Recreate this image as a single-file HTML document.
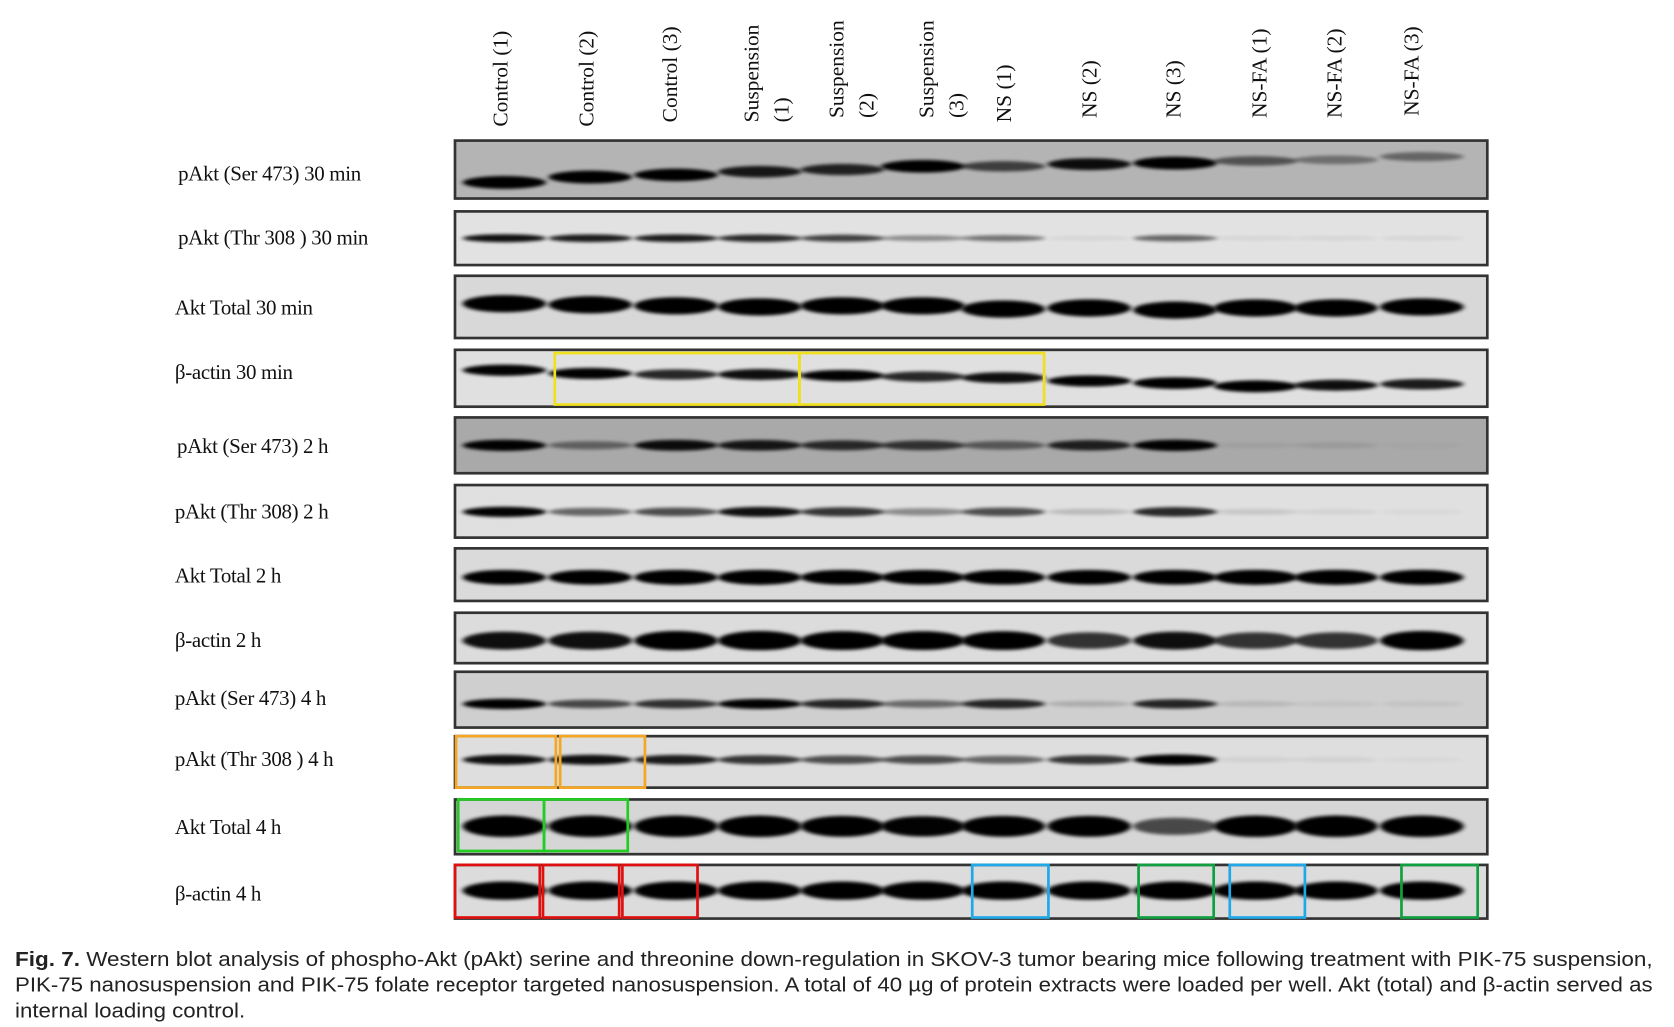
<!DOCTYPE html>
<html><head><meta charset="utf-8"><style>
html,body{margin:0;padding:0;background:#fff;width:1674px;height:1027px;overflow:hidden}
#w{position:absolute;left:0;top:0;width:1560px;height:957px;transform:scale(1.0731);transform-origin:0 0}
.lab{position:absolute;font-family:"Liberation Serif",serif;font-size:19.5px;color:#111;letter-spacing:-0.3px}
.cl{position:absolute;left:14px;width:1526px;font-family:"Liberation Sans",sans-serif;font-size:19px;color:#222;white-space:nowrap;transform-origin:0 0}
</style></head><body><div id="w">
<svg width="1560" height="957" style="position:absolute;left:0;top:0">
<defs><filter id="b" x="-20%" y="-100%" width="140%" height="300%"><feGaussianBlur stdDeviation="2.5 1.6"/></filter></defs>
<g font-family="Liberation Serif, serif" font-size="20" fill="#111">
<text transform="translate(473,118) rotate(-90)">Control  (1)</text>
<text transform="translate(553,118) rotate(-90)">Control  (2)</text>
<text transform="translate(631,114) rotate(-90)">Control  (3)</text>
<text transform="translate(707,114) rotate(-90)">Suspension</text>
<text transform="translate(735,114) rotate(-90)">(1)</text>
<text transform="translate(786,110) rotate(-90)">Suspension</text>
<text transform="translate(814,110) rotate(-90)">(2)</text>
<text transform="translate(870,110) rotate(-90)">Suspension</text>
<text transform="translate(898,110) rotate(-90)">(3)</text>
<text transform="translate(942,114) rotate(-90)">NS (1)</text>
<text transform="translate(1022,110) rotate(-90)">NS (2)</text>
<text transform="translate(1100,110) rotate(-90)">NS (3)</text>
<text transform="translate(1180,110) rotate(-90)">NS-FA  (1)</text>
<text transform="translate(1250,110) rotate(-90)">NS-FA  (2)</text>
<text transform="translate(1322,108) rotate(-90)">NS-FA  (3)</text>
</g>
<g id="blots"></g>
</svg>
<div class="lab" style="left:166px;top:152px">pAkt  (Ser 473) 30 min</div>
<div class="lab" style="left:166px;top:212px">pAkt  (Thr 308 ) 30 min</div>
<div class="lab" style="left:163px;top:277px">Akt Total 30 min</div>
<div class="lab" style="left:163px;top:337px">β-actin 30 min</div>
<div class="lab" style="left:165px;top:406px">pAkt (Ser 473) 2 h</div>
<div class="lab" style="left:163px;top:467px">pAkt  (Thr 308) 2 h</div>
<div class="lab" style="left:163px;top:527px">Akt Total 2 h</div>
<div class="lab" style="left:163px;top:587px">β-actin 2 h</div>
<div class="lab" style="left:163px;top:641px">pAkt (Ser 473) 4 h</div>
<div class="lab" style="left:163px;top:698px">pAkt (Thr 308 ) 4 h</div>
<div class="lab" style="left:163px;top:761px">Akt Total 4 h</div>
<div class="lab" style="left:163px;top:823px">β-actin 4 h</div>
<div class="cl" id="c1" style="top:884px"><b>Fig. 7.</b> Western blot analysis of phospho-Akt (pAkt) serine and threonine down-regulation in SKOV-3 tumor bearing mice following treatment with PIK-75 suspension,</div>
<div class="cl" id="c2" style="top:908px">PIK-75 nanosuspension and PIK-75 folate receptor targeted nanosuspension. A total of 40 µg of protein extracts were loaded per well. Akt (total) and β-actin served as</div>
<div class="cl" id="c3" style="top:932px">internal loading control.</div>
</div>
<script>
var lanes=[470,550,630,708,785,860,935,1015,1095,1170,1245,1325];
var rows=[
[131,185,'#b4b4b4',[170,165,163,160,158,155,155,153,152,150,149,146],[1,1,.95,.8,.75,.95,.6,.85,1,.5,.35,.4],12],
[197,247,'#e2e2e2',222,[.85,.8,.8,.75,.65,.35,.45,.05,.5,.05,.05,.05],8],
[257,315,'#d8d8d8',[283,284,285,286,285,285,288,287,289,287,287,286],[1,1,1,1,1,1,1,1,1,1,1,1],16],
[326,379,'#e0e0e0',[345,348,349,349,350,351,352,355,357,360,359,358],[.9,.9,.75,.85,.9,.75,.85,.9,1,1,.85,.8],11],
[389,441,'#a9a9a9',415,[.9,.4,.85,.8,.7,.65,.45,.75,.9,.05,.08,.02],11],
[452,501,'#e0e0e0',477,[.9,.5,.6,.85,.7,.35,.6,.15,.75,.1,.05,.03],10],
[511,560,'#dadada',538,[.95,.95,1,1,.95,.95,.95,.95,.95,1,1,1],14],
[571,618,'#dcdcdc',597,[.85,.85,1,1,.95,.95,.95,.7,.85,.7,.7,1],18],
[626,678,'#cfcfcf',656,[.95,.6,.7,.9,.75,.45,.75,.15,.75,.1,.05,.05],10],
[686,734,'#dedede',708,[.85,.85,.8,.7,.6,.6,.5,.7,.95,.05,.05,.02],10],
[745,796,'#d6d6d6',770,[1,1,1,1,.95,.9,.95,.95,.6,1,1,1],20],
[806,856,'#dcdcdc',830,[1,1,1,1,1,1,1,1,1,1,1,1],17]];
var s='';
rows.forEach(function(r){
 s+='<rect x="424" y="'+r[0]+'" width="962" height="'+(r[1]-r[0])+'" fill="'+r[2]+'" stroke="#333" stroke-width="2.5"/>';
 for(var i=0;i<12;i++){var y=Array.isArray(r[3])?r[3][i]:r[3];var a=r[4][i];
  s+='<ellipse cx="'+lanes[i]+'" cy="'+y+'" rx="39" ry="'+(r[5]*(0.5+0.5*a))/2+'" fill="#000" opacity="'+Math.min(1,a*1.1)+'" filter="url(#b)"/>';}
});
function bx(x1,y1,x2,y2,c){s+='<rect x="'+x1+'" y="'+y1+'" width="'+(x2-x1)+'" height="'+(y2-y1)+'" fill="none" stroke="'+c+'" stroke-width="2.5"/>';}
bx(517,329,745,377,'#f0e020');bx(745,329,973,377,'#f0e020');
bx(425,686,518,734,'#f5a623');bx(522,686,601,734,'#f5a623');
bx(427,745,507,793,'#22cc22');bx(507,745,585,793,'#22cc22');
bx(424,806,503,855,'#e01010');bx(506,806,577,855,'#e01010');bx(580,806,650,855,'#e01010');
bx(906,806,977,855,'#20a8e8');bx(1146,806,1216,855,'#20a8e8');
bx(1061,806,1131,855,'#10a040');bx(1306,806,1377,855,'#10a040');
document.getElementById('blots').innerHTML=s;
['c1','c2'].forEach(function(id){var e=document.getElementById(id);e.style.width='auto';e.style.display='inline-block';var w=e.getBoundingClientRect().width/1.0731;e.style.transform='scaleX('+(1526/w)+')';});
(function(){var e=document.getElementById('c3');e.style.display='inline-block';e.style.width='auto';var w1=document.getElementById('c2');var m=w1.style.transform.match(/[\d.]+/);if(m)e.style.transform='scaleX('+m[0]+')';})();
</script>
</body></html>
